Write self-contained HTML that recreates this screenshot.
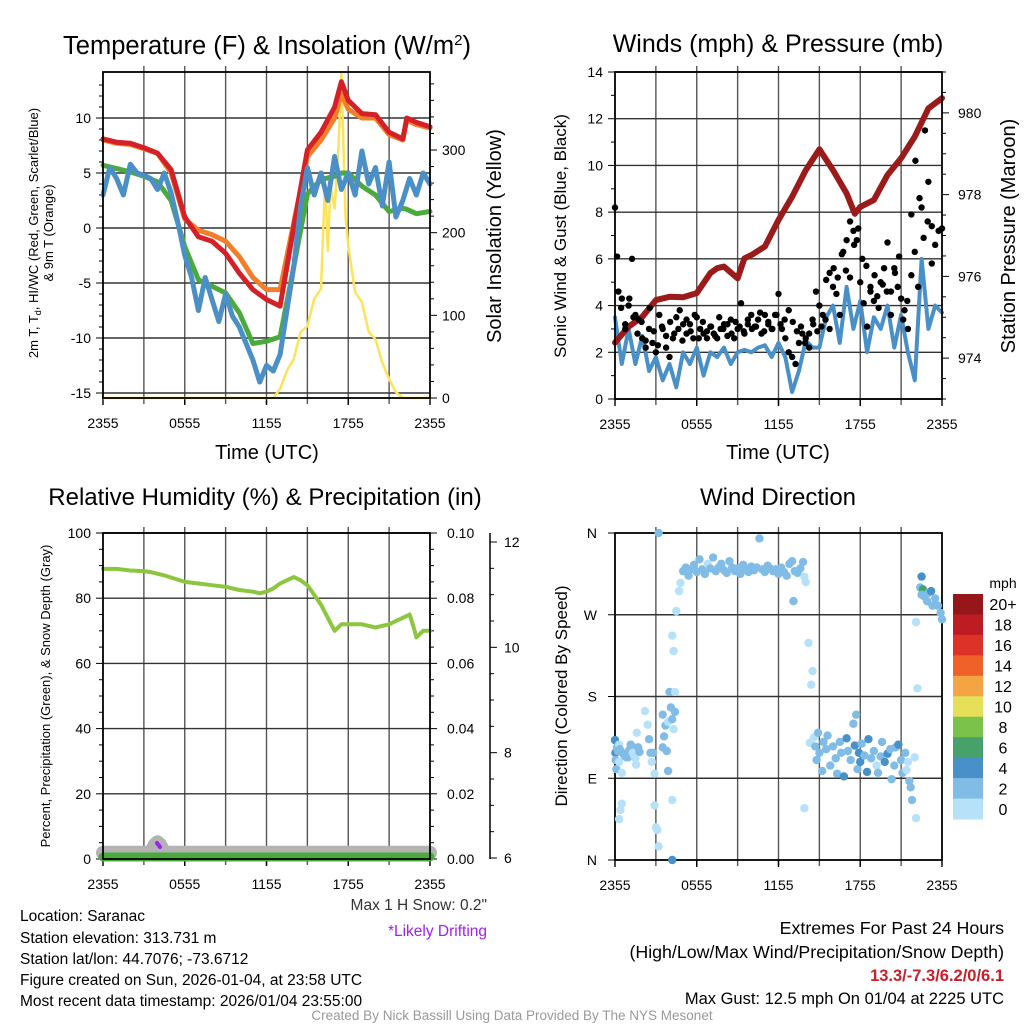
<!DOCTYPE html>
<html><head><meta charset="utf-8">
<style>
html,body{margin:0;padding:0;background:#fff;}
svg{display:block;font-family:"Liberation Sans",Arial,sans-serif;}
</style></head>
<body>
<svg id="fig" width="1024" height="1024" viewBox="0 0 1024 1024" xmlns="http://www.w3.org/2000/svg">
<g id="p1"></g>
<g id="p2"></g>
<g id="p3"></g>
<g id="p4"></g>

<text x="267" y="54" font-size="25.5" text-anchor="middle">Temperature (F) &amp; Insolation (W/m<tspan font-size="15" dy="-9">2</tspan><tspan dy="9">)</tspan></text>
<text x="778" y="52" font-size="25" text-anchor="middle">Winds (mph) &amp; Pressure (mb)</text>
<text x="265" y="505" font-size="24" text-anchor="middle">Relative Humidity (%) &amp; Precipitation (in)</text>
<text x="778" y="505" font-size="24" text-anchor="middle">Wind Direction</text>

<text transform="translate(38,233) rotate(-90)" font-size="13" text-anchor="middle">2m T, T<tspan font-size="9" dy="3">d</tspan><tspan dy="-3">, HI/WC (Red, Green, Scarlet/Blue)</tspan></text>
<text transform="translate(53,233) rotate(-90)" font-size="13" text-anchor="middle">&amp; 9m T (Orange)</text>
<text transform="translate(501,236) rotate(-90)" font-size="20" text-anchor="middle">Solar Insolation (Yellow)</text>
<text x="267" y="459" font-size="20" text-anchor="middle">Time (UTC)</text>
<text x="778" y="459" font-size="20" text-anchor="middle">Time (UTC)</text>
<text transform="translate(566,236) rotate(-90)" font-size="17" text-anchor="middle">Sonic Wind &amp; Gust (Blue, Black)</text>
<text transform="translate(1015,236) rotate(-90)" font-size="20" text-anchor="middle">Station Pressure (Maroon)</text>
<text transform="translate(50,696) rotate(-90)" font-size="13" text-anchor="middle">Percent, Precipitation (Green), &amp; Snow Depth (Gray)</text>
<text transform="translate(567,696) rotate(-90)" font-size="17" text-anchor="middle">Direction (Colored By Speed)</text>

<text x="487" y="910" font-size="15.5" text-anchor="end" fill="#333">Max 1 H Snow: 0.2"</text>
<text x="487" y="936" font-size="15.5" text-anchor="end" fill="#a020f0">*Likely Drifting</text>

<g font-size="15.5">
<text x="20" y="921">Location: Saranac</text>
<text x="20" y="943">Station elevation: 313.731 m</text>
<text x="20" y="964">Station lat/lon: 44.7076; -73.6712</text>
<text x="20" y="985">Figure created on Sun, 2026-01-04, at 23:58 UTC</text>
<text x="20" y="1006">Most recent data timestamp: 2026/01/04 23:55:00</text>
</g>
<g font-size="17.8" text-anchor="end">
<text x="1004" y="934">Extremes For Past 24 Hours</text>
<text x="1004" y="958">(High/Low/Max Wind/Precipitation/Snow Depth)</text>
<text x="1004" y="981" fill="#c8202a" font-weight="bold" font-size="16.5">13.3/-7.3/6.2/0/6.1</text>
<text x="1004" y="1004" font-size="16.5">Max Gust: 12.5 mph On 01/04 at 2225 UTC</text>
</g>
<text x="512" y="1020" font-size="13.5" text-anchor="middle" fill="#999">Created By Nick Bassill Using Data Provided By The NYS Mesonet</text>
</svg>
<script>
// ---------- data ----------
const timeTicks = ["2355","0555","1155","1755","2355"];
const tempTicks = [-15,-10,-5,0,5,10];
const insolTicks = [0,100,200,300];
const hourly = [0,1,2,3,4,5,6,7,8,9,10,11,12,13,14,15,16,17,17.5,18,19,20,21,22,22.3,23,24];
const tempRed =    [8.1,7.8,7.7,7.3,6.8,5.3,1.0,-0.8,-1.2,-2.3,-4.1,-5.6,-6.5,-7.1,0.1,7.1,8.7,11.0,13.3,11.6,10.4,10.3,8.7,8.1,10.0,9.6,9.2];
const tempOrange = [8.0,7.7,7.6,7.2,6.8,5.0,0.8,-0.2,-0.6,-1.2,-2.6,-4.5,-5.6,-5.6,0.5,6.5,8.0,10.0,12.2,10.8,10.0,10.0,8.5,8.0,9.8,9.4,9.1];
const tempGreen =  [5.7,5.4,5.1,4.7,4.2,2.5,-1.7,-4.7,-5.3,-5.9,-7.7,-10.5,-10.3,-9.9,-3.5,3.1,4.4,4.7,5.0,5.0,3.8,3.0,1.5,1.8,1.7,1.3,1.5];
const halfHours = [0,0.5,1,1.5,2,2.5,3,3.5,4,4.5,5,5.5,6,6.5,7,7.5,8,8.5,9,9.5,10,10.5,11,11.5,12,12.5,13,13.5,14,14.5,15,15.5,16,16.5,17,17.5,18,18.5,19,19.5,20,20.5,21,21.5,22,22.5,23,23.5,24];
const tempBlue = [3.0,5.5,4.5,3.0,5.8,5.0,4.8,4.5,3.5,5.0,3.2,0.5,-2.5,-4.5,-7.5,-4.5,-6.5,-8.5,-6.0,-8.0,-9.0,-10.5,-12.0,-14.0,-12.5,-13.0,-11.5,-7.5,-3.5,2.0,5.5,3.0,5.0,2.5,6.5,3.5,5.0,3.0,7.0,4.0,5.5,2.0,6.0,1.0,2.5,4.5,3.0,5.0,4.0];
const insolTimes = [0,12.5,13,13.5,14,14.5,15,15.5,16,16.3,16.5,16.7,17,17.3,17.5,17.8,18,18.5,19,19.5,20,20.5,21,21.5,22,24];
const insolValues = [0,0,11,33,47,80,87,120,132,265,178,257,229,309,394,220,184,128,116,80,71,43,23,7,0,0];

const windTicks = [0,2,4,6,8,10,12,14];
const presTicks = [974,976,978,980];
const presTimes = [0,1,2,3,4,5,6,7,7.5,8,9,9.5,10,11,12,13,14,15,16,17,17.6,18,19,20,21,22,23,24];
const presValues = [974.38,974.77,975.01,975.42,975.5,975.49,975.59,976.08,976.2,976.24,975.95,976.44,976.52,976.73,977.38,977.95,978.6,979.11,978.6,978.03,977.53,977.7,977.87,978.48,978.89,979.42,980.11,980.36];
const windSonic = [3.5,1.5,3.0,1.5,2.7,1.2,1.8,0.8,1.5,0.5,2.0,1.5,2.2,1.0,2.0,1.8,2.2,1.5,2.0,2.1,2.0,2.2,2.3,1.8,2.4,1.8,0.3,1.2,2.5,2.2,2.2,3.5,4.0,2.4,4.8,3.0,4.2,2.0,3.5,3.0,4.0,2.2,3.6,2.0,0.8,6.0,3.0,4.0,3.7];
const gustValues = [8.2,4.6,4.3,3.0,4.0,6.0,3.6,3.4,2.6,2.2,3.0,2.4,2.0,3.6,3.0,2.2,1.8,2.6,3.5,3.8,3.2,2.8,3.2,2.6,3.5,3.0,2.8,2.6,3.1,2.8,2.6,3.0,3.2,2.7,3.4,2.6,3.0,4.1,2.8,3.2,3.6,3.1,3.4,2.8,3.6,3.2,3.0,3.6,4.5,3.0,2.6,2.0,1.8,1.5,2.4,2.8,2.6,2.8,3.4,4.6,4.0,3.6,5.1,5.4,4.8,4.5,3.6,6.3,6.8,5.2,7.2,6.8,5.0,4.1,3.1,4.6,4.2,4.4,5.0,5.6,6.7,4.6,5.6,4.8,4.3,3.8,3.0,5.3,6.3,4.8,8.2,11.5,9.3,7.4,6.6,7.2,7.3];
const gustValues2 = [6.1,3.9,3.2,4.3,3.5,2.8,3.3,2.5,3.9,2.9,2.3,3.1,2.7,3.3,2.8,3.0,2.5,3.4,2.9,3.6,2.6,3.3,2.9,3.1,2.7,3.5,3.0,3.2,2.8,3.3,3.1,2.9,3.4,3.0,3.1,3.7,2.9,3.3,3.0,3.6,3.2,3.4,3.8,3.3,2.9,3.1,2.4,2.2,3.2,2.9,3.1,3.4,3.0,5.6,5.2,6.2,5.5,7.6,6.6,7.3,6.0,5.7,4.8,5.3,3.9,4.9,4.6,3.6,5.4,6.1,3.4,4.2,7.9,10.2,8.6,6.9,7.6,5.8];

const rhTicks = [0,20,40,60,80,100];
const precipTicks = ["0.00","0.02","0.04","0.06","0.08","0.10"];
const snowTicks = [6,8,10,12];
const rhTimes = [0,1,2,3,3.5,4.5,6,7,8,9,10,11,11.5,12,12.5,13,13.5,14,14.5,15,15.5,16,16.5,17,17.5,18,19,20,21,21.5,22,22.5,22.8,23,23.5,24];
const rhValues = [89,89,88.5,88.3,88,87,85,84.5,84,83.5,82.5,82,81.5,82,83,84.5,85.5,86.5,85.5,84,81,78,74,70,72,72,72,71,72,73,74,75,71,68,70,70];
const precipTimes = [0,24];
const precipValues = [0,0];
const snowTimes = [0,3.5,3.8,4.0,4.2,4.5,24];
const snowValues = [6.1,6.1,6.25,6.3,6.25,6.1,6.1];

const dirLabels = ["N","E","S","W","N"];
const dirTimes =  [0,0.03,0.05,0.15,0.2,0.3,0.35,0.45,0.55,0.65,0.75,0.85,0.95,1.05,1.15,1.25,1.3,1.4,1.5,1.55,1.6,1.7,1.8,0.1,0.3,0.5,0.5,0.4,0.3,
 2.2,2.4,2.5,2.6,2.7,2.8,2.9,2.9,3.0,3.1,3.2,3.2,3.5,3.6,3.5,3.7,3.8,3.9,3.9,4.0,4.1,4.2,4.2,4.3,4.4,4.4,4.2,4.2,4.3,4.5,4.7,4.8,
 5.0,5.2,5.4,5.6,5.8,6.0,6.2,6.4,6.6,6.8,7.0,7.2,7.4,7.6,7.8,8.0,8.2,8.4,8.6,8.8,9.0,9.2,9.4,9.6,9.8,10.0,10.2,10.4,10.6,10.8,11.0,11.2,11.4,11.6,11.8,12.0,12.2,12.4,12.6,12.8,13.0,13.2,13.4,13.6,13.8,13.1,13.9,14.0,
 14.2,14.5,14.4,14.3,13.9,
 14.6,14.7,14.8,14.9,15.0,15.2,15.3,15.5,15.6,15.8,16.0,16.2,16.3,16.5,16.6,16.8,17.0,17.1,17.3,17.5,17.6,17.7,17.8,17.9,18.0,18.1,18.3,18.5,18.6,18.8,19.0,19.2,19.3,19.5,19.6,19.8,20.0,20.2,20.3,20.5,20.6,20.8,21.0,21.1,21.3,21.4,21.5,21.6,21.7,21.8,22.1,22.0,
 22.1,22.2,22.4,22.5,22.6,22.5,22.7,22.9,23.0,23.2,23.3,23.5,23.7,23.9,24.0];
const dirValues = [132,118,110,124,120,127,122,119,118,116,114,113,113,121,127,125,118,115,112,105,140,124,119,100,108,96,62,55,45,
 164,149,133,118,108,118,95,60,36,33,15,360,124,136,160,148,120,98,152,185,168,0,155,144,163,185,66,247,230,274,296,305,
 318,322,313,320,325,317,331,320,315,326,321,333,318,322,326,319,316,329,322,318,321,315,325,320,317,323,319,322,354,320,317,324,321,318,320,315,322,317,313,326,329,318,316,321,328,285,312,306,
 239,208,193,129,57,
 135,125,110,140,118,98,130,122,137,104,125,112,95,130,118,92,134,120,110,150,126,160,100,118,108,128,115,97,133,112,120,104,96,114,130,108,117,122,89,104,124,127,110,96,118,99,108,87,80,66,46,113,
 262,189,300,312,298,292,290,285,294,296,280,288,280,272,265];
const dirSpeeds = [4,4,3,2,2,1,2,2,2,2,2,2,2,2,2,2,1,1,1,1,0,3,3,3,1,0,0,0,0,
 0,1,3,3,1,2,1,0,0,0,0,2,2,2,3,2,2,3,1,3,2,4,3,1,3,1,1,1,1,1,0,1,
 2,2,2,2,2,2,2,2,2,1,2,2,2,2,2,2,2,2,2,2,2,2,2,2,2,2,2,2,3,2,2,2,2,2,2,2,2,2,2,2,2,2,2,2,2,3,1,1,
 0,0,0,0,0,
 1,2,2,2,2,2,2,2,3,2,2,2,2,2,3,4,4,2,2,3,4,3,3,4,4,2,3,4,4,3,2,1,2,2,2,4,4,3,2,3,3,4,2,2,3,1,0,3,3,3,0,0,
 0,0,3,4,6,2,2,2,3,4,2,2,2,2,3];
const cbarLabels = ["20+","18","16","14","12","10","8","6","4","2","0"];
const cbarColors = ["#96161a","#bd1d22","#dc3227","#ef6129","#f5a443","#e5e057","#7bc24a","#46a26a","#4790c8","#80bce6","#b6e1f8"];

// ---------- helpers ----------
const NS="http://www.w3.org/2000/svg";
function mk(parent, tag, attrs, text){
  const e=document.createElementNS(NS,tag);
  for(const k in attrs) e.setAttribute(k,attrs[k]);
  if(text!==undefined) e.textContent=text;
  parent.appendChild(e); return e;
}
function lin(d0,d1,r0,r1){return v=>r0+(v-d0)*(r1-r0)/(d1-d0);}
function pathFrom(xs,ys,fx,fy){return xs.map((t,i)=>(i?'L':'M')+fx(t).toFixed(1)+','+fy(ys[i]).toFixed(1)).join('');}
function frame(g,L,T,R,B,hgridYs){
  for(let i=1;i<8;i++){const x=L+(R-L)*i/8;
    const ln=mk(g,'line',{x1:x,y1:T-6,x2:x,y2:B+6,stroke:'#555','stroke-width':1.4});
    
    }
  hgridYs.forEach(y=>{const ln=mk(g,'line',{x1:L,y1:y,x2:R,y2:y,stroke:'#333','stroke-width':1.4});
    
    });
}
function border(g,L,T,R,B){
  const r=mk(g,'rect',{x:L,y:T,width:R-L,height:B-T,fill:'none',stroke:'#000','stroke-width':1.8});
  
  
}
function xTicks(g,L,R,B){
  timeTicks.forEach((s,i)=>{const x=L+(R-L)*i/4;
    mk(g,'line',{x1:x,y1:B,x2:x,y2:B+7,stroke:'#000','stroke-width':1.4});
    const t=mk(g,'text',{x:x,y:B+30,'font-size':14,'text-anchor':'middle'},s);
    
    });
}

// ---------- panel 1 ----------
(function(){
  const g=document.getElementById('p1');
  const L=103,T=72,R=430,B=398;
  const fx=lin(0,24,L,R), fy=lin(0,10,228,118), fw=lin(0,300,B,150);
  frame(g,L,T,R,B,tempTicks.map(fy));
  for(let v=-15;v<=13;v++){mk(g,'line',{x1:L-(v%5?4:7),y1:fy(v),x2:L,y2:fy(v),stroke:'#000','stroke-width':1});}
  for(let w=0;w<=380;w+=20){mk(g,'line',{x1:R,y1:fw(w),x2:R+(w%100?4:7),y2:fw(w),stroke:'#000','stroke-width':1});}
  tempTicks.forEach(v=>{const t=mk(g,'text',{x:L-12,y:fy(v)+5,'font-size':14,'text-anchor':'end'},String(v));
    
    });
  insolTicks.forEach(v=>{const t=mk(g,'text',{x:R+12,y:fw(v)+5,'font-size':14},String(v));
    
    });
  xTicks(g,L,R,B);
  const ip=mk(g,'path',{d:pathFrom(insolTimes,insolValues,fx,fw),fill:'none',stroke:'#fde35a','stroke-width':2.5,'stroke-linejoin':'round'});
  
  
  const gp=mk(g,'path',{d:pathFrom(hourly,tempGreen,fx,fy),fill:'none',stroke:'#4aab3c','stroke-width':5,'stroke-linejoin':'round','stroke-linecap':'round'});
  
  
  const op=mk(g,'path',{d:pathFrom(hourly,tempOrange,fx,fy),fill:'none',stroke:'#f47d2a','stroke-width':5,'stroke-linejoin':'round','stroke-linecap':'round'});
  
  
  const rp=mk(g,'path',{d:pathFrom(hourly,tempRed,fx,fy),fill:'none',stroke:'#d42027','stroke-width':5,'stroke-linejoin':'round','stroke-linecap':'round'});
  
  
  const bp=mk(g,'path',{d:pathFrom(halfHours,tempBlue,fx,fy),fill:'none',stroke:'#4a8fc6','stroke-width':5,'stroke-linejoin':'round','stroke-linecap':'round'});
  
  
  border(g,L,T,R,B);
})();

// ---------- panel 2 ----------
(function(){
  const g=document.getElementById('p2');
  const L=615,T=72,R=942,B=399;
  const fx=lin(0,24,L,R), fy=lin(0,14,B,T), fp=lin(973,981,B,T);
  frame(g,L,T,R,B,windTicks.map(fy));
  for(let v=0;v<=14;v++){mk(g,'line',{x1:L-(v%2?4:7),y1:fy(v),x2:L,y2:fy(v),stroke:'#000','stroke-width':1});}
  for(let p=973;p<=981;p+=0.5){mk(g,'line',{x1:R,y1:fp(p),x2:R+(p%2===0?7:4),y2:fp(p),stroke:'#000','stroke-width':1});}
  windTicks.forEach(v=>{const t=mk(g,'text',{x:L-12,y:fy(v)+5,'font-size':14,'text-anchor':'end'},String(v));
    
    });
  presTicks.forEach(v=>{const t=mk(g,'text',{x:R+16,y:fp(v)+5,'font-size':14},String(v));
    
    });
  xTicks(g,L,R,B);
  const wp=mk(g,'path',{d:pathFrom(halfHours,windSonic,fx,fy),fill:'none',stroke:'#4a90c8','stroke-width':4,'stroke-linejoin':'round','stroke-linecap':'round'});
  
  
  const pp=mk(g,'path',{d:pathFrom(presTimes,presValues,fx,fp),fill:'none',stroke:'#9b1b1b','stroke-width':6,'stroke-linejoin':'round','stroke-linecap':'round'});
  
  
  gustValues.forEach((v,i)=>{const c=mk(g,'circle',{cx:fx(i*0.25),cy:fy(v),r:3.2,fill:'#000'});
    
    });
  gustValues2.forEach((v,i)=>{const c=mk(g,'circle',{cx:fx(0.15+i*0.3),cy:fy(v),r:3.2,fill:'#000'});
    
    });
  border(g,L,T,R,B);
})();

// ---------- panel 3 ----------
(function(){
  const g=document.getElementById('p3');
  const L=103,T=533,R=430,B=859;
  const fx=lin(0,24,L,R), fy=lin(0,100,B,T), fpr=lin(0,0.1,B,T), fs=lin(6,12,858,542);
  frame(g,L,T,R,B,rhTicks.map(fy));
  for(let v=0;v<=100;v+=5){mk(g,'line',{x1:L-(v%20?4:7),y1:fy(v),x2:L,y2:fy(v),stroke:'#000','stroke-width':1});}
  for(let v=0;v<=100;v+=5){mk(g,'line',{x1:R,y1:fy(v),x2:R+(v%20?4:7),y2:fy(v),stroke:'#000','stroke-width':1});}
  rhTicks.forEach(v=>{const t=mk(g,'text',{x:L-12,y:fy(v)+5,'font-size':14,'text-anchor':'end'},String(v));
    
    });
  precipTicks.forEach(s=>{const t=mk(g,'text',{x:R+17,y:fpr(parseFloat(s))+5,'font-size':14},s);
    
    });
  const ax=mk(g,'line',{x1:490,y1:533,x2:490,y2:859,stroke:'#000','stroke-width':1.5});
  
  
  for(let s=6;s<=12;s+=0.5){mk(g,'line',{x1:490,y1:fs(s),x2:490+(s%2===0?7:4),y2:fs(s),stroke:'#000','stroke-width':1});}
  snowTicks.forEach(v=>{const t=mk(g,'text',{x:504,y:fs(v)+5,'font-size':14},String(v));
    
    });
  xTicks(g,L,R,B);
  const sp=mk(g,'path',{d:pathFrom(snowTimes,snowValues,fx,fs),fill:'none',stroke:'#b3b3b3','stroke-width':14,'stroke-linejoin':'round','stroke-linecap':'round'});
  
  
  const pr=mk(g,'path',{d:pathFrom(precipTimes,precipValues,fx,v=>fpr(v)-2),fill:'none',stroke:'#4aab3c','stroke-width':9,'stroke-linecap':'round'});
  
  
  const dr=mk(g,'line',{x1:157,y1:843,x2:160,y2:847,stroke:'#a020f0','stroke-width':4,'stroke-linecap':'round'});
  
  
  const rp=mk(g,'path',{d:pathFrom(rhTimes,rhValues,fx,fy),fill:'none',stroke:'#8cc63f','stroke-width':4,'stroke-linejoin':'round','stroke-linecap':'round'});
  
  
  border(g,L,T,R,B);
})();

// ---------- panel 4 ----------
(function(){
  const g=document.getElementById('p4');
  const L=615,T=533,R=942,B=860;
  const fx=lin(0,24,L,R), fy=lin(0,360,B,T);
  frame(g,L,T,R,B,[90,180,270].map(fy));
  [0,90,180,270,360].forEach(v=>mk(g,'line',{x1:L-7,y1:fy(v),x2:L,y2:fy(v),stroke:'#000','stroke-width':1}));
  dirLabels.forEach((s,i)=>{const t=mk(g,'text',{x:L-18,y:fy(i*90)+5,'font-size':14,'text-anchor':'end'},s);
    
    });
  xTicks(g,L,R,B);
  border(g,L,T,R,B);
  function col(s){const idx=Math.min(10,Math.floor(s/2));return cbarColors[10-idx];}
  dirTimes.forEach((t,i)=>{const c=mk(g,'circle',{cx:fx(t),cy:fy(dirValues[i]),r:4.2,fill:col(dirSpeeds[i])});
    
    });
  const cb=mk(g,'g',{});
  
  
  const hh=225/11;
  cbarColors.forEach((c,i)=>mk(cb,'rect',{x:953,y:594+i*hh,width:30,height:hh+0.5,fill:c}));
  cbarLabels.forEach((s,i)=>{const t=mk(cb,'text',{x:1003,y:594+(i+0.5)*hh+6,'font-size':16,'text-anchor':'middle'},s);
    
    });
  const u=mk(cb,'text',{x:1003,y:588,'font-size':14,'text-anchor':'middle'},'mph');
  
  
})();
</script>
</body></html>
